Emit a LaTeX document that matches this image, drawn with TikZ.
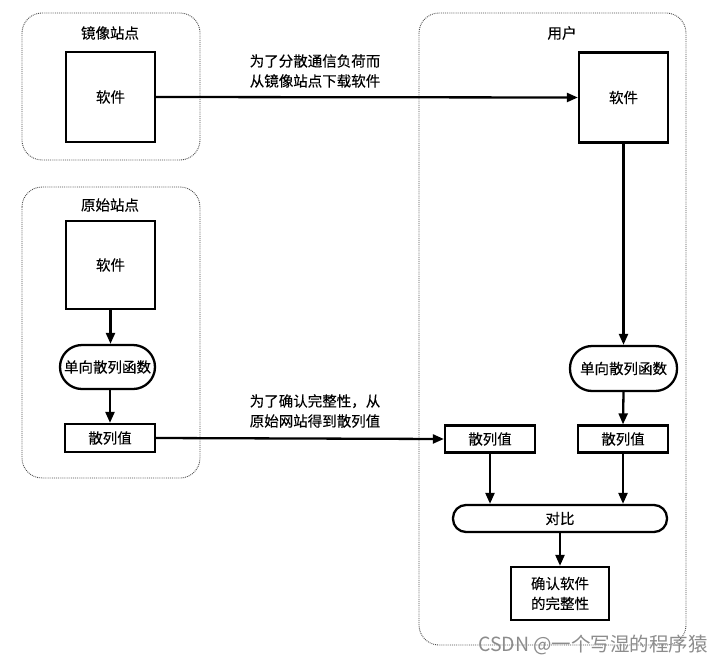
\documentclass[tikz,border=0pt]{standalone}
\usepackage{fontspec}
\setmainfont[FakeBold=0.3]{Noto Sans CJK SC}
\newfontfamily\wmfont{Noto Sans CJK SC}
\usetikzlibrary{arrows.meta}
\begin{document}
\begin{tikzpicture}[x=1pt,y=-1pt,
  font=\fontsize{14.5}{20}\selectfont,
  box/.style={draw, line width=2.3pt, inner sep=0pt, align=center},
  pill/.style={box, rounded corners=#1},
  grp/.style={draw=black!70, densely dotted, line width=0.9pt, rounded corners=20pt},
  arr/.style={line width=2.3pt, -{Triangle[length=11pt,width=9pt]}},
  lbl/.style={align=center, inner sep=0pt},
  ttl/.style={inner sep=0pt}]
\useasboundingbox (0,0) rectangle (725,664);

% groups
\draw[grp] (22,13) rectangle (200,160);
\draw[grp] (22,187) rectangle (200,478);
\draw[grp] (419,13) rectangle (686,645);

% titles
\node[ttl] (tm) at (110,33) {镜像站点};
\node[ttl] (to) at (110,205) {原始站点};
\node[ttl] (tu) at (562,33) {用户};

% mirror site
\node[box, minimum width=89pt, minimum height=90pt] (ms) at (110.5,97) {软件};

% original site
\node[box, minimum width=89pt, minimum height=88pt] (os) at (110.5,265) {软件};
\node[pill=22pt, minimum width=95pt, minimum height=44pt] (of) at (107.5,367) {单向散列函数};
\node[box, minimum width=90pt, minimum height=28pt] (oh) at (110,438) {散列值};

% user
\node[box, minimum width=89pt, minimum height=90pt] (us) at (623.5,97.5) {软件};
\node[pill=22pt, minimum width=107pt, minimum height=45pt] (uf) at (623.5,368.5) {单向散列函数};
\node[box, minimum width=90pt, minimum height=27pt] (uh) at (623,439) {散列值};
\node[box, minimum width=90pt, minimum height=27pt] (uh2) at (490,439) {散列值};
\node[pill=13pt, minimum width=214pt, minimum height=27pt] (cmp) at (560,518.5) {对比};
\node[box, minimum width=98pt, minimum height=53pt] (res) at (560,593.5) {确认软件\\的完整性};

% connectors
\draw[arr] (ms.east) -- (us.west);
\draw[arr] (us.south) -- (uf.north);
\draw[arr] (uf.south) -- (uh.north);
\draw[arr] (uh.south) -- (uh.south |- cmp.north);
\draw[arr] (uh2.south) -- (uh2.south |- cmp.north);
\draw[arr] (res.north |- cmp.south) -- (res.north);
\draw[arr] (os.south) -- (of.north -| os.south);
\draw[arr] (of.south -| oh.north) -- (oh.north);
\draw[arr] (oh.east) -- (uh2.west);

% labels
\node[lbl] (l1) at (315,71) {为了分散通信负荷而\\从镜像站点下载软件};
\node[lbl] (l2) at (315,411) {为了确认完整性，从\\原始网站得到散列值};

% watermark
\node[inner sep=0pt, text=black!45, font=\wmfont\fontsize{19.5}{20}\selectfont] (wm) at (593,645) {CSDN @一个写湿的程序猿};
\end{tikzpicture}
\end{document}
